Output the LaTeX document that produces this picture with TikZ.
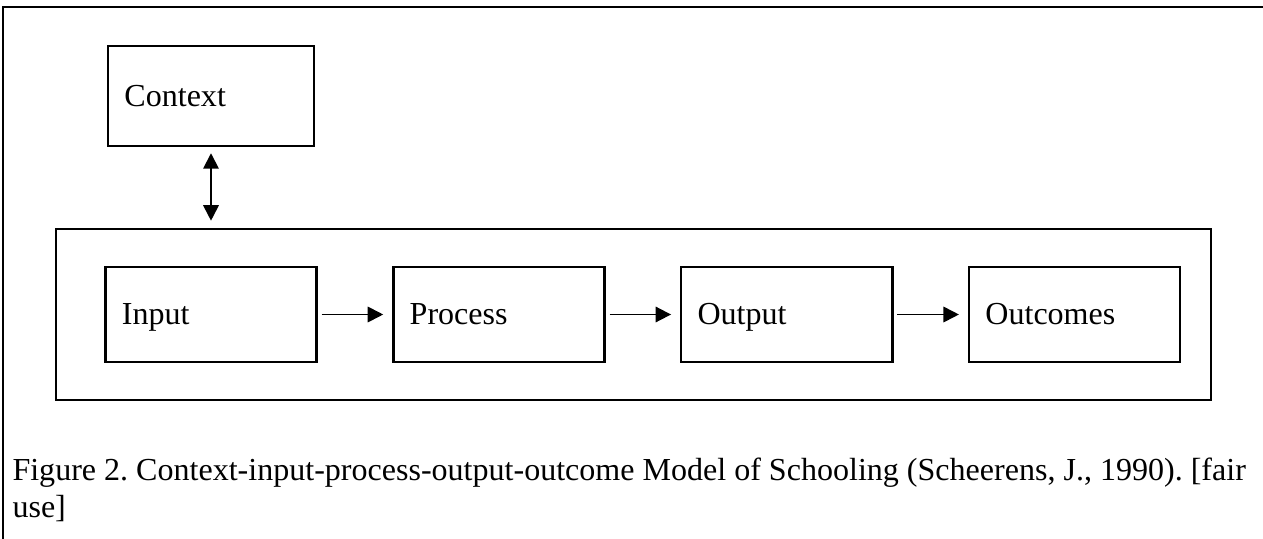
\documentclass[tikz,border=0pt]{standalone}
\usepackage{fontspec}
\setmainfont{Liberation Serif}
\usetikzlibrary{arrows.meta, positioning}

\begin{document}
\frenchspacing
\begin{tikzpicture}[
    x=0.387pt, y=-0.387pt,
    font=\fontsize{12.4}{14.2}\selectfont,
    node distance=28.7pt,
    box/.style={
        rectangle, draw=black, line width=1pt,
        minimum width=81.7pt, minimum height=36.8pt,
        text width=69pt, align=left, inner xsep=6.2pt,
        text height=11pt, text depth=3pt
    },
    frame/.style={draw=black, line width=1pt},
    arrow/.style={-{Triangle[length=6pt,width=6pt]}, line width=0.7pt,
        shorten <=1.5pt, shorten >=3.4pt}
]
\useasboundingbox (0,0) rectangle (1263,539);

% Frame
\draw[frame] (3,539) -- (3,7) -- (1263,7);

% Nodes
\node[box, minimum width=79.7pt, minimum height=38.7pt, text width=67pt] (context) at (211,96) {Context};
\node[frame, minimum width=447pt, minimum height=66.2pt] (school) at (633.5,314.5) {};

\node[box] (input) at (211,314.5) {Input};
\node[box, right=of input] (process) {Process};
\node[box, right=of process] (output) {Output};
\node[box, right=of output] (outcomes) {Outcomes};

\node[anchor=base west, align=left, inner sep=0pt] (caption) at (12,517)
    {Figure 2. Context-input-process-output-outcome Model of Schooling (Scheerens, J., 1990). [fair\\use]};

% Paths
\draw[arrow, {Triangle[length=6pt,width=6pt]}-{Triangle[length=6pt,width=6pt]},
    shorten <=2.3pt, shorten >=2.7pt] (context) -- (context |- school.north);
\draw[arrow] (input) -- (process);
\draw[arrow] (process) -- (output);
\draw[arrow] (output) -- (outcomes);

\end{tikzpicture}
\end{document}
